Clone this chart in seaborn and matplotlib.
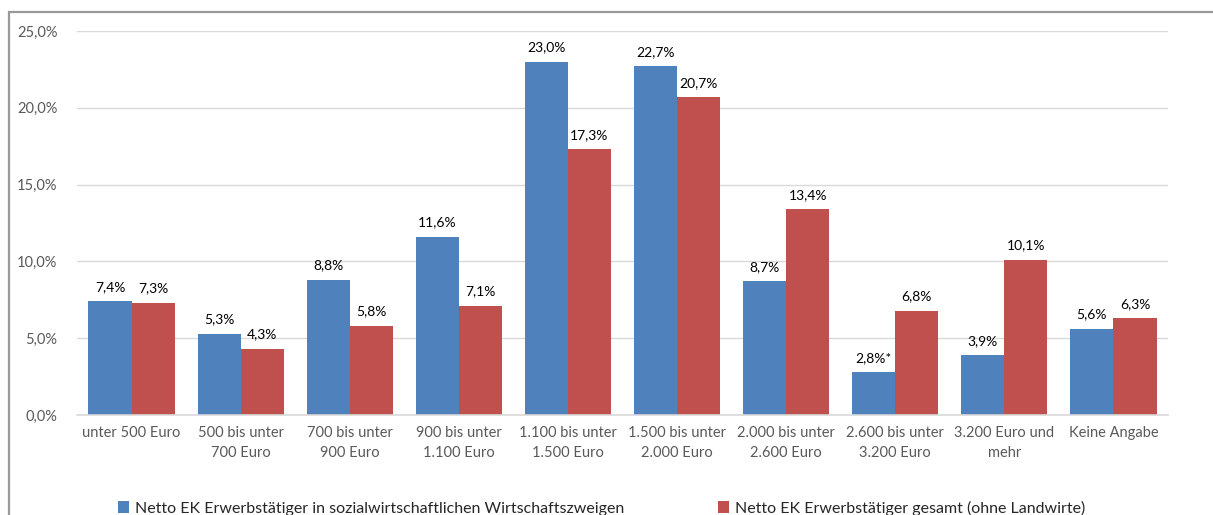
import matplotlib
matplotlib.use("Agg")
import matplotlib.pyplot as plt
import seaborn as sns
import pandas as pd
from matplotlib.patches import Rectangle

categories = ["unter 500 Euro", "500 bis unter\n700 Euro", "700 bis unter\n900 Euro",
              "900 bis unter\n1.100 Euro", "1.100 bis unter\n1.500 Euro", "1.500 bis unter\n2.000 Euro",
              "2.000 bis unter\n2.600 Euro", "2.600 bis unter\n3.200 Euro", "3.200 Euro und\nmehr",
              "Keine Angabe"]
series_names = ["Netto EK Erwerbstätiger in sozialwirtschaftlichen Wirtschaftszweigen",
                "Netto EK Erwerbstätiger gesamt (ohne Landwirte)"]
sozial = [7.4, 5.3, 8.8, 11.6, 23.0, 22.7, 8.7, 2.8, 3.9, 5.6]
gesamt = [7.3, 4.3, 5.8, 7.1, 17.3, 20.7, 13.4, 6.8, 10.1, 6.3]
sozial_marks = ["", "", "", "", "", "", "", "*", "", ""]
gesamt_marks = [""] * 10
yticks = [0, 5, 10, 15, 20, 25]
colors = ["#4F81BD", "#C0504D"]

df = pd.DataFrame({
    "cat": categories * 2,
    "series": [series_names[0]] * 10 + [series_names[1]] * 10,
    "value": sozial + gesamt,
})

sns.set_style("white")
plt.rcParams["font.family"] = ["Lato", "DejaVu Sans"]

fig = plt.figure(figsize=(12.13, 5.15), dpi=100)
ax = fig.add_axes([77/1213, 1 - 415/515, (1168 - 77)/1213, (415 - 31)/515])

sns.barplot(data=df, x="cat", y="value", hue="series", palette=colors,
            width=0.79, ax=ax, legend=True, saturation=1, linewidth=0)

ax.set_ylim(0, 25)
ax.set_yticks(yticks)
ax.set_yticklabels([f"{v:.1f}%".replace(".", ",") for v in yticks])
ax.yaxis.grid(True, color="#d9d9d9", linewidth=1)
ax.set_axisbelow(True)
for s in ["top", "right", "left"]:
    ax.spines[s].set_visible(False)
ax.spines["bottom"].set_color("#d9d9d9")
ax.spines["bottom"].set_linewidth(1.2)
ax.tick_params(axis="both", length=0, labelsize=10.5, labelcolor="#595959")
ax.tick_params(axis="y", pad=14)
ax.tick_params(axis="x", pad=8)
for t in ax.get_xticklabels():
    t.set_linespacing(1.5)
ax.set_xlabel("")
ax.set_ylabel("")

marks_all = [sozial_marks, gesamt_marks]
vals_all = [sozial, gesamt]
for ci, cont in enumerate(ax.containers):
    labels = [f"{v:.1f}%".replace(".", ",") + m for v, m in zip(vals_all[ci], marks_all[ci])]
    ax.bar_label(cont, labels=labels, padding=6, fontsize=10, color="black")

handles, labs = ax.get_legend_handles_labels()
ax.get_legend().remove()
fig.legend(handles, labs, loc="center left", bbox_to_anchor=(118/1213, 1 - 508/515),
           ncol=2, frameon=False, fontsize=11.5, handlelength=0.7, handleheight=0.7,
           handletextpad=0.35, columnspacing=5.9, borderpad=0, borderaxespad=0)

fig.patches.append(Rectangle((9/1213, -0.1), 1.2, 1.1 - 12/515, transform=fig.transFigure,
                             fill=False, edgecolor="#999999", linewidth=1.6))

fig.savefig("out.png", dpi=100)
